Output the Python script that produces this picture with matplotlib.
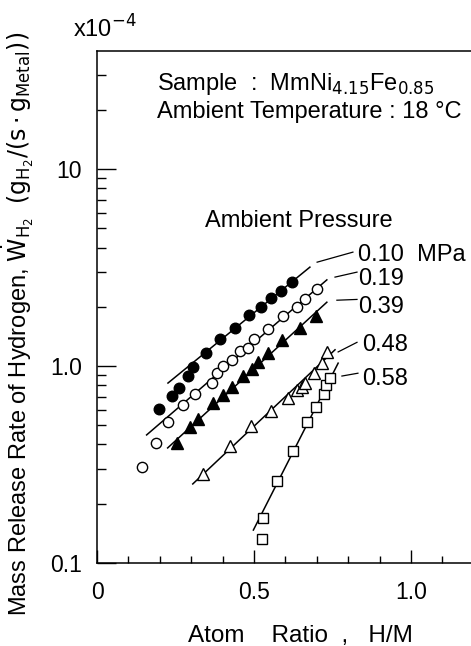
import numpy as np
import matplotlib
matplotlib.use("Agg")
import matplotlib.pyplot as plt

plt.rcParams['font.family'] = ['Liberation Sans', 'DejaVu Sans']
plt.rcParams['mathtext.fontset'] = 'dejavusans'

# 0.10 MPa, filled circles
hm_010 = [0.197, 0.239, 0.261, 0.290, 0.306, 0.347, 0.392, 0.439, 0.484, 0.522, 0.554, 0.586, 0.621]
w_010 = [0.605, 0.705, 0.773, 0.890, 0.99, 1.16, 1.37, 1.56, 1.81, 1.99, 2.21, 2.40, 2.67]
fit_hm_010 = [0.226, 0.678]
fit_w_010 = [0.82, 3.18]

# 0.19 MPa, open circles
hm_019 = [0.143, 0.188, 0.226, 0.274, 0.312, 0.366, 0.382, 0.401, 0.430, 0.455, 0.481, 0.500, 0.545, 0.592, 0.637, 0.662, 0.701]
w_019 = [0.307, 0.406, 0.520, 0.634, 0.721, 0.82, 0.92, 1.0, 1.07, 1.19, 1.23, 1.37, 1.54, 1.79, 1.99, 2.19, 2.46]
fit_hm_019 = [0.158, 0.732]
fit_w_019 = [0.447, 2.74]

# 0.39 MPa, filled triangles
hm_039 = [0.255, 0.296, 0.322, 0.369, 0.401, 0.430, 0.465, 0.494, 0.513, 0.545, 0.589, 0.646, 0.697]
w_039 = [0.406, 0.490, 0.538, 0.649, 0.713, 0.782, 0.890, 0.966, 1.05, 1.16, 1.36, 1.56, 1.79]
fit_hm_039 = [0.225, 0.732]
fit_w_039 = [0.384, 2.11]

# 0.48 MPa, open triangles
hm_048 = [0.338, 0.424, 0.490, 0.554, 0.608, 0.637, 0.653, 0.662, 0.691, 0.717, 0.732]
w_048 = [0.283, 0.393, 0.496, 0.591, 0.689, 0.755, 0.782, 0.82, 0.92, 1.04, 1.18]
fit_hm_048 = [0.305, 0.758]
fit_w_048 = [0.252, 1.21]

# 0.58 MPa, open squares
hm_058 = [0.525, 0.529, 0.573, 0.624, 0.669, 0.697, 0.723, 0.729, 0.742]
w_058 = [0.132, 0.169, 0.261, 0.371, 0.520, 0.620, 0.721, 0.80, 0.869]
fit_hm_058 = [0.498, 0.768]
fit_w_058 = [0.147, 1.035]

# pressure labels and their leader lines
p_labels = ["0.10  MPa", "0.19", "0.39", "0.48", "0.58"]
lead_hm = [[0.701, 0.815], [0.758, 0.828], [0.764, 0.828], [0.768, 0.828], [0.780, 0.831]]
lead_w = [[3.37, 3.79], [2.83, 3.00], [2.16, 2.18], [1.18, 1.32], [0.89, 0.92]]
label_hm = [0.831, 0.831, 0.831, 0.844, 0.844]
label_w = [3.41, 2.58, 1.86, 1.19, 0.80]

fig = plt.figure(figsize=(4.71, 6.46), dpi=100)
ax = fig.add_axes([97 / 471, 1 - 563 / 646, 1 - 97 / 471, (563 - 51) / 646])

ax.set_yscale('log')
ax.set_xlim(0, (471 - 97) / 314)
ax.set_ylim(0.1, 10 ** 1.6)

lw_fit = 1.1
ax.plot(fit_hm_010, fit_w_010, color='black', lw=lw_fit)
ax.plot(fit_hm_019, fit_w_019, color='black', lw=lw_fit)
ax.plot(fit_hm_039, fit_w_039, color='black', lw=lw_fit)
ax.plot(fit_hm_048, fit_w_048, color='black', lw=lw_fit)
ax.plot(fit_hm_058, fit_w_058, color='black', lw=lw_fit)

ax.plot(hm_010, w_010, 'o', ms=7.6, mfc='black', mec='black', mew=1.0)
ax.plot(hm_019, w_019, 'o', ms=7.4, mfc='white', mec='black', mew=1.0)
ax.plot(hm_039, w_039, '^', ms=8.4, mfc='black', mec='black', mew=1.0)
ax.plot(hm_048, w_048, '^', ms=8.4, mfc='white', mec='black', mew=1.0)
ax.plot(hm_058, w_058, 's', ms=6.6, mfc='white', mec='black', mew=1.0)

for i in range(len(p_labels)):
    ax.plot(lead_hm[i], lead_w[i], color='black', lw=0.9)
    ax.text(label_hm[i], label_w[i], p_labels[i], fontsize=17, ha='left', va='baseline')

# axes styling
ax.spines['right'].set_visible(False)
for s in ['left', 'bottom', 'top']:
    ax.spines[s].set_linewidth(1.1)

ax.set_xticks([0, 0.5, 1.0])
ax.set_xticklabels(['0', '0.5', '1.0'])
ax.set_xticks(np.arange(0.1, 1.15, 0.1), minor=True)
ax.set_yticks([0.1, 1, 10])
ax.set_yticklabels(['0.1', '1.0', '10'])
ax.tick_params(axis='x', which='major', direction='in', length=9.5, width=1.0, labelsize=16.5, pad=13, top=False)
ax.tick_params(axis='x', which='minor', direction='in', length=5, width=1.0, top=False)
ax.tick_params(axis='y', which='major', direction='in', length=13.5, width=1.0, labelsize=16.5, pad=11, right=False)
ax.tick_params(axis='y', which='minor', direction='in', length=6.5, width=1.0, right=False)

fig.text(300 / 471, 1 - 642 / 646, "Atom    Ratio  ,   H/M", fontsize=17.5, ha='center', va='baseline')
fig.text(18 / 471, 1 - 324 / 646,
         r"Mass Release Rate of Hydrogen, $\dot{\mathrm{W}}_{\mathrm{H_2}}$  $(\mathrm{g_{H_2}/(s\cdot g_{Metal})})$",
         fontsize=17, rotation=90, ha='center', va='center')
fig.text(73 / 471, 1 - 38 / 646, r"x10$^{-4}$", fontsize=17, ha='left', va='baseline')

fig.text(157 / 471, 1 - 90 / 646, r"Sample  :  MmNi$_{4.15}$Fe$_{0.85}$", fontsize=17, ha='left', va='baseline')
fig.text(157 / 471, 1 - 118 / 646, "Ambient Temperature : 18 °C", fontsize=17, ha='left', va='baseline')
fig.text(205 / 471, 1 - 227 / 646, "Ambient Pressure", fontsize=17, ha='left', va='baseline')

fig.savefig("out.png", dpi=100)
